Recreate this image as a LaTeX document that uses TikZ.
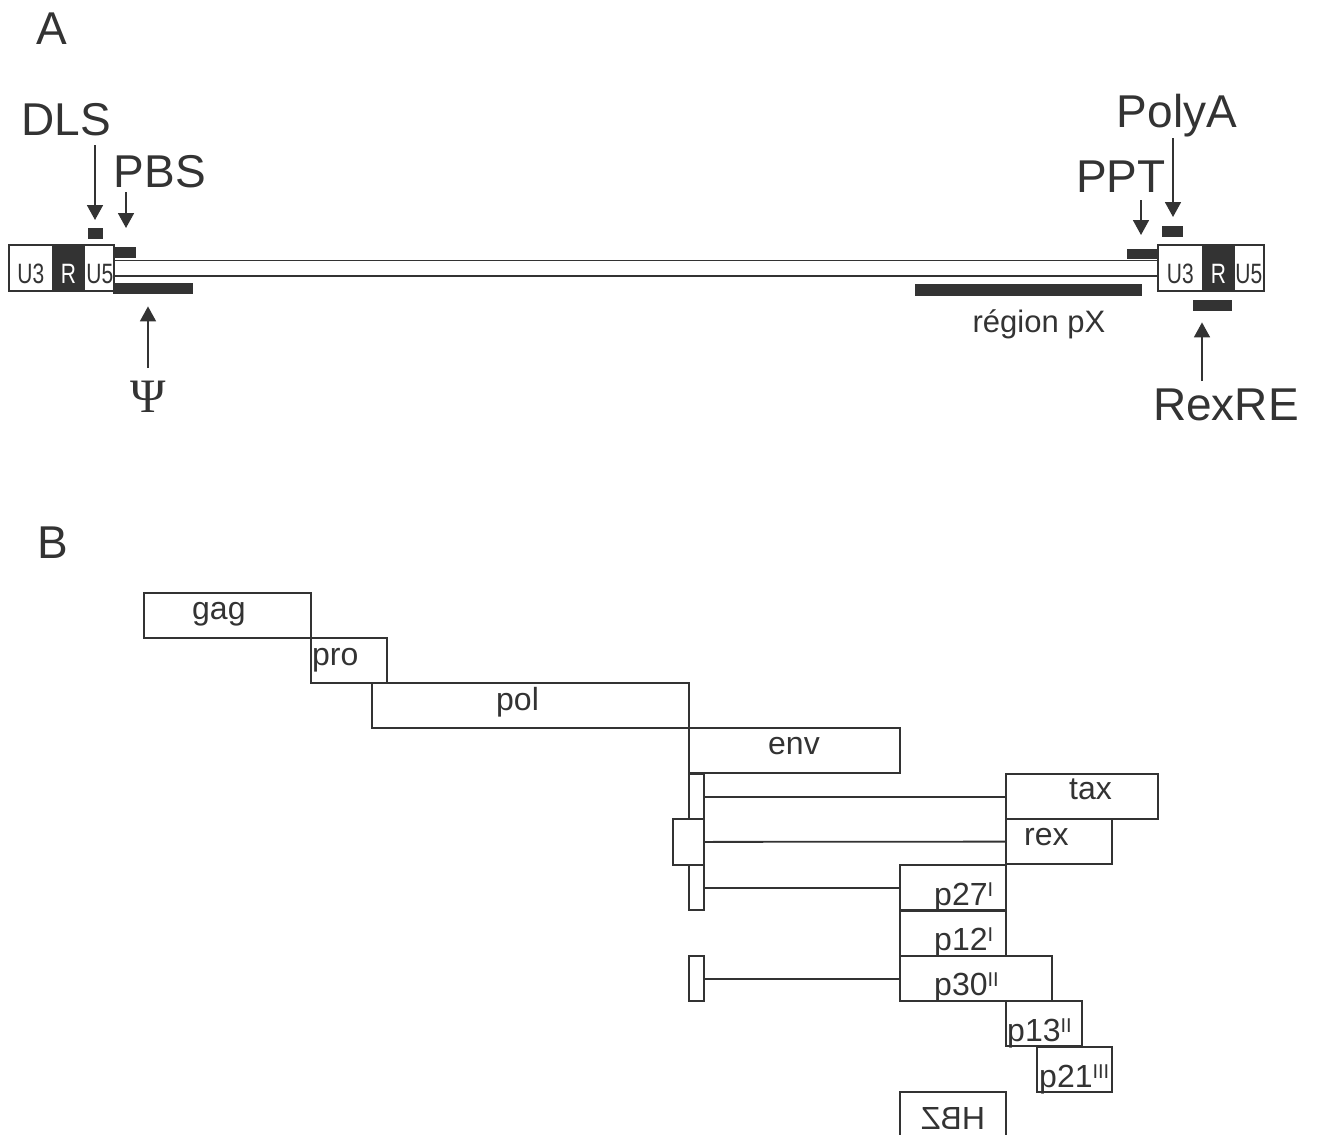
\documentclass[tikz,border=0pt]{standalone}
\usepackage{fontspec}
\setmainfont{Liberation Sans}
\newfontfamily\grk{Liberation Serif}
\usepackage{graphicx}
\usetikzlibrary{calc,arrows.meta}
\definecolor{ink}{HTML}{333333}
\tikzstyle{arrow} = [line width=1.8pt,draw=ink,-{Triangle[length=15pt,width=16pt]}]
\tikzstyle{cell} = [draw=ink,line width=1.8pt,inner sep=0pt,minimum height=46pt,anchor=north west]
\tikzstyle{blk} = [fill=ink,inner sep=0pt,anchor=north west]
\tikzstyle{gene} = [draw=ink,line width=1.8pt,inner sep=0pt,minimum height=45.4pt,anchor=north west]
\tikzstyle{splice} = [gene,minimum width=15pt]
\tikzstyle{big} = [text=ink,inner sep=0pt,anchor=base,font=\fontsize{46}{50}\selectfont]
\tikzstyle{lbl} = [text=ink,inner sep=0pt,anchor=base west,font=\fontsize{32}{34}\selectfont]
\tikzstyle{ltrt} = [inner sep=0pt,anchor=base,font=\fontsize{28}{30}\selectfont]
\newcommand{\rn}[1]{\raisebox{9pt}{\fontsize{20}{20}\selectfont #1}}
\newcommand{\ltr}[1]{\scalebox{0.75}[1]{#1}}

\begin{document}
\begin{tikzpicture}[x=1pt,y=1pt,yscale=-1,xscale=1]
\useasboundingbox (0,0) rectangle (1318,1135);

% Panel A
\node[big] (la) at (52,45) {A};
%Shape: LTR left
\node[cell,minimum width=44pt] (u3l) at (8,244) {};
\node[cell,minimum width=31pt,fill=ink] (rl) at (52,244) {};
\node[cell,minimum width=30pt] (u5l) at (83,244) {};
%Shape: LTR right
\node[cell,minimum width=45pt] (u3r) at (1157,244) {};
\node[cell,minimum width=31pt,fill=ink] (rr) at (1202,244) {};
\node[cell,minimum width=30pt] (u5r) at (1233,244) {};
% Text Node
\node[ltrt,text=ink] (u3lt) at ($(u3l.south)+(0,-8)$) {\ltr{U3}};
\node[ltrt,text=white] (rlt) at ($(rl.south)+(0,-8)$) {\ltr{R}};
\node[ltrt,text=ink] (u5lt) at ($(u5l.south)+(1,-8)$) {\ltr{U5}};
\node[ltrt,text=ink] (u3rt) at ($(u3r.south)+(0,-8)$) {\ltr{U3}};
\node[ltrt,text=white] (rrt) at ($(rr.south)+(0,-8)$) {\ltr{R}};
\node[ltrt,text=ink] (u5rt) at ($(u5r.south)+(0,-8)$) {\ltr{U5}};
%Straight Lines
\draw[ink,line width=1.8pt] ($(u5l.east)+(0,-7.5)$) -- ($(u3r.west)+(0,-7.5)$);
\draw[ink,line width=1.8pt] ($(u5l.east)+(0,8)$) -- ($(u3r.west)+(0,8)$);

%Shape: blocks
\node[blk,minimum width=15pt,minimum height=11pt] (dlsb) at (88,228) {};
\node[blk,minimum width=23pt,minimum height=11pt] (pbsb) at (113,247) {};
\node[blk,minimum width=80pt,minimum height=11pt] (psib) at (113,283) {};
\node[blk,minimum width=30pt,minimum height=10pt] (pptb) at (1127,249) {};
\node[blk,minimum width=21pt,minimum height=11pt] (polyb) at (1162,226) {};
\node[blk,minimum width=227pt,minimum height=12pt] (pxb) at (915,284) {};
\node[blk,minimum width=39pt,minimum height=11pt] (rreb) at (1193,300) {};

% Text Node
\node[big] (dls) at (66,135) {DLS};
\node[big] (pbs) at (160,187) {PBS};
\node[big] (polya) at (1177,127) {PolyA};
\node[big] (ppt) at (1121,192) {PPT};
\node[big] (rexre) at (1226,420) {RexRE};
\node[big,font=\fontsize{48}{50}\selectfont\grk] (psi) at (148,412) {Ψ};
\node[lbl,anchor=base,font=\fontsize{31}{34}\selectfont] (pxt) at (1039,332) {région pX};

%Straight Lines
\coordinate (dlsa) at (95,145);
\coordinate (pbsa) at (126,192);
\coordinate (polyaa) at (1173,138);
\coordinate (ppta) at (1141,200);
\coordinate (psia) at (148,368);
\coordinate (rrea) at (1202,381);
\draw[arrow,shorten >=8pt] (dlsa) -- (dlsa |- dlsb.north);
\draw[arrow,shorten >=19pt] (pbsa) -- (pbsa |- pbsb.north);
\draw[arrow,shorten >=9pt] (polyaa) -- (polyaa |- polyb.north);
\draw[arrow,shorten >=14pt] (ppta) -- (ppta |- pptb.north);
\draw[arrow,shorten >=12pt] (psia) -- (psia |- psib.south);
\draw[arrow,shorten >=11pt] (rrea) -- (rrea |- rreb.south);

% Panel B
\node[big] (lb) at (53,558) {B};
%Shape: Rectangle
\node[gene,minimum width=167pt] (gag) at (143,592) {};
\node[gene,minimum width=76pt] (pro) at (310,637) {};
\node[gene,minimum width=317pt] (pol) at (371,682) {};
\node[gene,minimum width=211pt] (env) at (688,727) {};
\node[gene,minimum width=152pt] (tax) at (1005,773) {};
\node[gene,minimum width=106pt] (rex) at (1005,818) {};
\node[gene,minimum width=106pt] (p27) at (899,864) {};
\node[gene,minimum width=106pt] (p12) at (899,910) {};
\node[gene,minimum width=152pt] (p30) at (899,955) {};
\node[gene,minimum width=76pt] (p13) at (1005,1000) {};
\node[gene,minimum width=75pt] (p21) at (1036,1046) {};
\node[gene,minimum width=106pt,minimum height=50pt] (hbz) at (899,1091) {};
%Shape: splice bars
\node[splice] (bar1) at (688,773) {};
\node[gene,minimum width=31pt,minimum height=46pt] (bar2) at (672,818) {};
\node[splice] (bar3) at (688,864) {};
\node[splice] (bar4) at (688,955) {};
%Straight Lines
\draw[ink,line width=1.8pt] (bar1.east) -- (tax.west);
\draw[ink,line width=1.8pt] (bar2.east) -- (rex.west);
\draw[ink,line width=1.8pt] (bar3.east) -- (p27.west);
\draw[ink,line width=1.8pt] (bar4.east) -- (p30.west);

% Text Node
\node[lbl] (gagt) at (192,619) {gag};
\node[lbl] (prot) at (312,665) {pro};
\node[lbl] (polt) at (496,710) {pol};
\node[lbl] (envt) at (768,754) {env};
\node[lbl] (taxt) at (1069,799) {tax};
\node[lbl] (rext) at (1024,845) {rex};
\node[lbl] (p27t) at (934,905) {p27\rn{I}};
\node[lbl] (p12t) at (934,950) {p12\rn{I}};
\node[lbl] (p30t) at (934,995) {p30\rn{II}};
\node[lbl] (p13t) at (1007,1041) {p13\rn{II}};
\node[lbl] (p21t) at (1039,1087) {p21\rn{III}};
\node[lbl,anchor=base,xscale=-1] (hbzt) at (953,1129) {HBZ};

\end{tikzpicture}
\end{document}
